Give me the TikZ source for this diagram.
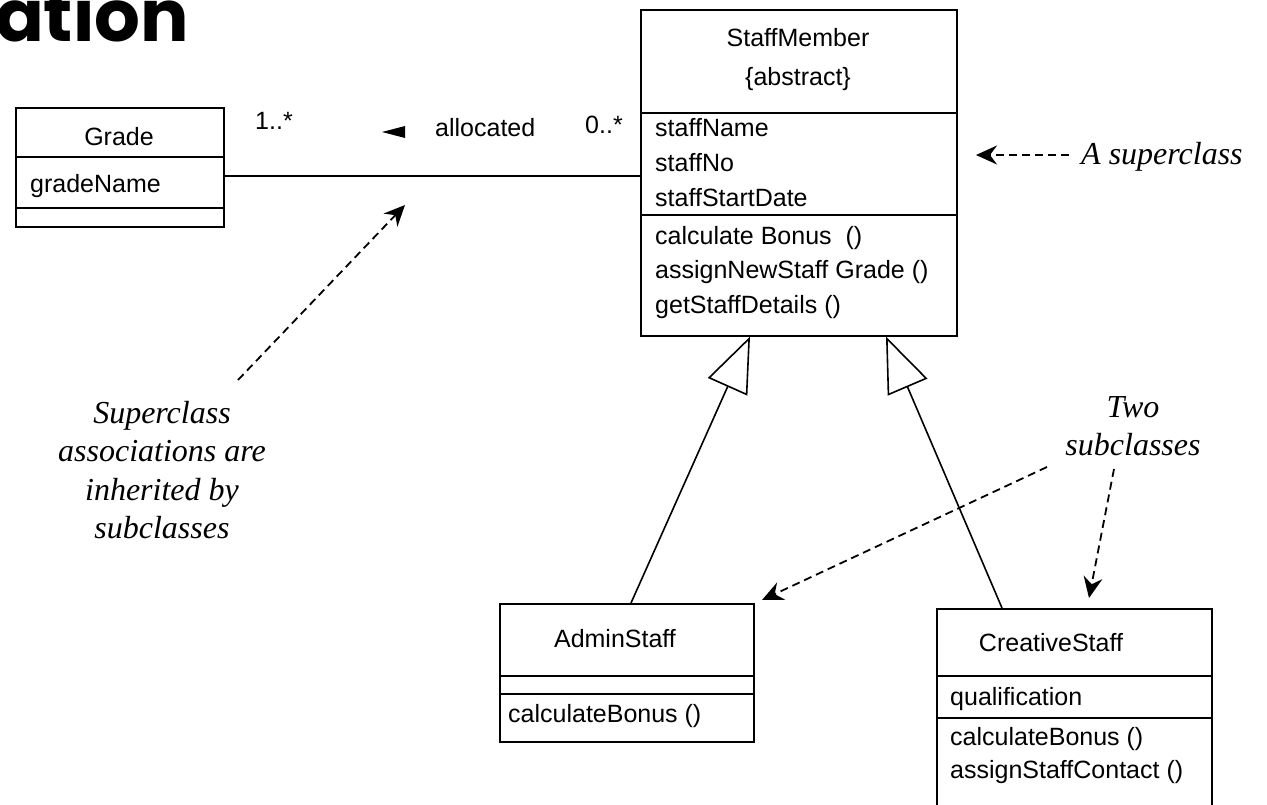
\documentclass[tikz,border=0pt]{standalone}
\usepackage{fontspec}
\setmainfont{Liberation Serif}
\newfontfamily\umlfont{Liberation Sans}
\newfontfamily\headfont{Poppins}
\usetikzlibrary{arrows.meta,calc}

\begin{document}
\begin{tikzpicture}[x=1pt,y=-1pt,
  line/.style={line width=1.6pt},
  classbox/.style={draw, line width=1.6pt, inner sep=0pt, anchor=north west},
  umltext/.style={font=\umlfont\fontsize{25}{30}\selectfont, inner sep=0pt},
  notetext/.style={font=\itshape\fontsize{32}{38.5}\selectfont, inner sep=0pt, align=center},
  notearrow/.style={line width=1.8pt, dash pattern=on 8pt off 5pt,
    -{Stealth[length=21pt, width=19pt, inset=7pt]}},
  genarrow/.style={line width=1.6pt,
    -{Triangle[open, length=55pt, width=43pt, line width=1.6pt]}}]

\useasboundingbox (0,0) rectangle (1267,805);
\clip (0,0) rectangle (1267,805);
\fill[white] (0,0) rectangle (1267,805);

% heading, partly outside the page
\node[anchor=base east, inner sep=0pt,
      font=\headfont\bfseries\fontsize{72}{72}\selectfont] (heading) at (189,42) {ation};

% ---------- Grade ----------
\node[classbox, minimum width=208pt, minimum height=119pt] (grade) at (15,107) {};
\draw[line] ($(grade.north west)+(0,50)$) -- ($(grade.north east)+(0,50)$);
\draw[line] ($(grade.north west)+(0,101)$) -- ($(grade.north east)+(0,101)$);
\node[umltext, anchor=base] (gradeName) at (119,146) {Grade};
\node[umltext, anchor=base west] (gradeAttr) at (30,193) {gradeName};

% ---------- StaffMember ----------
\node[classbox, minimum width=316pt, minimum height=326pt] (staff) at (640,9) {};
\draw[line] ($(staff.north west)+(0,104)$) -- ($(staff.north east)+(0,104)$);
\draw[line] ($(staff.north west)+(0,206)$) -- ($(staff.north east)+(0,206)$);
\node[umltext, anchor=base] (staffName) at (798,47) {StaffMember};
\node[umltext, anchor=base] (staffAbs) at (798,86) {\{abstract\}};
\node[umltext, anchor=base west] (sa1) at (655,137) {staffName};
\node[umltext, anchor=base west] (sa2) at (655,172) {staffNo};
\node[umltext, anchor=base west] (sa3) at (655,207) {staffStartDate};
\node[umltext, anchor=base west] (so1) at (655,245) {calculate Bonus\ \ ()};
\node[umltext, anchor=base west] (so2) at (655,279) {assignNewStaff Grade\ ()};
\node[umltext, anchor=base west] (so3) at (655,313) {getStaffDetails\ ()};

% ---------- AdminStaff ----------
\node[classbox, minimum width=254pt, minimum height=138pt] (admin) at (499,603) {};
\draw[line] ($(admin.north west)+(0,73)$) -- ($(admin.north east)+(0,73)$);
\draw[line] ($(admin.north west)+(0,91)$) -- ($(admin.north east)+(0,91)$);
\node[umltext, anchor=base] (adminName) at (615,647) {AdminStaff};
\node[umltext, anchor=base west] (ao1) at (508,722) {calculateBonus\ ()};

% ---------- CreativeStaff (runs past the lower edge) ----------
\node[classbox, minimum width=275pt, minimum height=240pt] (creative) at (936,608) {};
\draw[line] ($(creative.north west)+(0,68)$) -- ($(creative.north east)+(0,68)$);
\draw[line] ($(creative.north west)+(0,110)$) -- ($(creative.north east)+(0,110)$);
\node[umltext, anchor=base] (creativeName) at (1051,651) {CreativeStaff};
\node[umltext, anchor=base west] (ca1) at (950,705) {qualification};
\node[umltext, anchor=base west] (co1) at (950,745) {calculateBonus\ ()};
\node[umltext, anchor=base west] (co2) at (950,778) {assignStaffContact\ ()};

% ---------- association ----------
\draw[line] (grade.east |- 0,176) -- (staff.west |- 0,176);
\node[umltext, anchor=base west] (multL) at (255,130) {1..*};
\node[umltext, anchor=base west] (assocName) at (435,137) {allocated};
\node[umltext, anchor=base west] (multR) at (585,134) {0..*};
\fill (382,132) -- (405,126) -- (405,138) -- cycle;

% ---------- generalisation ----------
\coordinate (adminTop) at ($(admin.north west)+(132,0)$);
\coordinate (creativeTop) at ($(creative.north west)+(66,0)$);
\coordinate (staffL) at ($(staff.south west)+(110,0)$);
\coordinate (staffR) at ($(staff.south west)+(246,0)$);
\draw[genarrow] (adminTop) -- (staffL);
\draw[genarrow] (creativeTop) -- (staffR);

% ---------- notes ----------
\node[notetext, anchor=base west] (noteSuper) at (1081,165) {A superclass};
\coordinate (noteSuperTip) at (976,155);
\draw[notearrow] (noteSuper.west |- 0,155) ++(-12,0) -- (noteSuperTip);

\node[notetext, anchor=north] (noteInherit) at (162,401) {Superclass\\associations are\\inherited by\\subclasses};
\coordinate (inheritStart) at (238,380);
\coordinate (inheritTip) at (405,205);
\draw[notearrow] (inheritStart) -- (inheritTip);

\node[notetext, anchor=north] (noteSub) at (1133,396) {Two\\subclasses};
\coordinate (subStartA) at (1047,467);
\coordinate (subTipA) at (762,600);
\coordinate (subStartB) at (1114,469);
\coordinate (subTipB) at (1089,598);
\draw[notearrow] (subStartA) -- (subTipA);
\draw[notearrow] (subStartB) -- (subTipB);

\end{tikzpicture}
\end{document}
